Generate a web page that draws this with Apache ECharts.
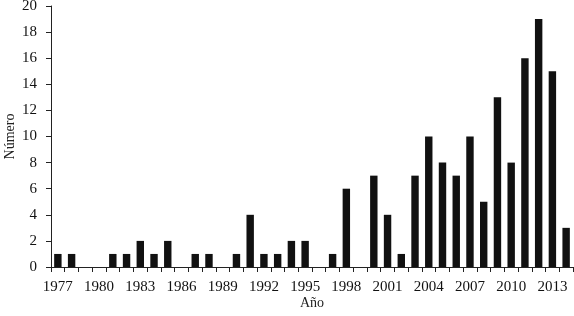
<!DOCTYPE html>
<html><head><meta charset="utf-8">
<script src="https://cdn.jsdelivr.net/npm/echarts@6/dist/echarts.min.js"></script>
<style>html,body{margin:0;padding:0;background:#fff}#c{width:574px;height:316px}</style>
</head><body><div id="c"></div>
<script>
const years = ['1977','1978','1979','1980','1981','1982','1983','1984','1985','1986','1987','1988','1989','1990','1991','1992','1993','1994','1995','1996','1997','1998','1999','2000','2001','2002','2003','2004','2005','2006','2007','2008','2009','2010','2011','2012','2013','2014'];
const counts = [1,1,0,0,1,1,2,1,2,0,1,1,0,1,4,1,1,2,2,0,1,6,0,7,4,1,7,10,8,7,10,5,13,8,16,19,15,3];
const yTicks = [0,2,4,6,8,10,12,14,16,18,20];
const font = 'Liberation Serif';
const chart = echarts.init(document.getElementById('c'));
chart.setOption({
  animation:false,
  grid:{left:51,right:1,top:6,bottom:49,outerBoundsMode:'none',containLabel:false},
  xAxis:{type:'category',data:years,
    name:'Año',nameLocation:'middle',nameGap:29,nameMoveOverlap:false,
    nameTextStyle:{fontFamily:font,fontSize:14,color:'#222'},
    axisLine:{lineStyle:{color:'#222',width:1}},
    axisTick:{show:true,interval:0,length:5,inside:false,lineStyle:{color:'#222'}},
    axisLabel:{interval:2,fontFamily:font,fontSize:15,color:'#111',margin:13}
  },
  yAxis:{type:'value',min:yTicks[0],max:yTicks[yTicks.length-1],interval:2,
    name:'Número',nameLocation:'middle',nameGap:34,nameMoveOverlap:false,
    nameTextStyle:{fontFamily:font,fontSize:14,color:'#222'},
    splitLine:{show:false},
    axisLine:{show:true,lineStyle:{color:'#222',width:1}},
    axisTick:{show:true,length:5,lineStyle:{color:'#222'}},
    axisLabel:{fontFamily:font,fontSize:15,color:'#111',margin:14}
  },
  series:[{type:'bar',data:counts,barCategoryGap:'46%',itemStyle:{color:'#111'}}]
});
</script></body></html>
